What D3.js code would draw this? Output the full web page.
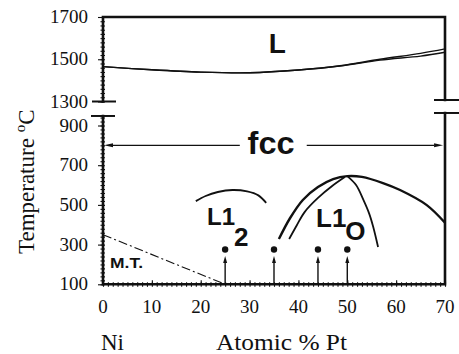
<!DOCTYPE html>
<html><head><meta charset="utf-8">
<script src="https://cdn.jsdelivr.net/npm/d3@7"></script>
<style>
html,body{margin:0;padding:0;background:#fff;}
svg{display:block;}
</style>
</head><body>
<svg id="c" width="459" height="354"></svg>
<script>
// ---- data ----
const xTicks = [0,10,20,30,40,50,60,70];
const yTicksUpper = [1300,1500,1700];
const yTicksLower = [100,300,500,700,900];
// liquidus / solidus (Atomic % Pt, °C)
const liquidus = [[0,1465],[10,1450],[20,1439],[30,1436],[40,1449],[48.5,1469],[56.7,1500],[65,1528],[70,1549]];
const solidus  = [[0,1465],[10,1450],[20,1439],[30,1436],[40,1449],[48.5,1468],[56.7,1496],[65,1515],[70,1533]];
// L1_2 ordering boundary
const l12Arc = [[19,519],[21,545],[23.5,565],[26.5,575],[29.5,568],[31.8,548],[33.4,510]];
// L1_0 dome
const l10Outer = [[36,328],[38.3,434],[40.9,525],[44,590],[47.1,630],[50,645],[53,641],[57.3,610],[60.8,575],[66.2,500],[70,410]];
const l10Inner = [[38.1,328],[39.7,399],[41.3,465],[44,535],[46.9,595],[49.5,640]];
const l10Right = [[50,645],[51.8,600],[53.3,525],[54.5,455],[55.3,390],[56.3,288]];
// martensitic transformation line
const mtLine = [[0,350],[25,100]];
// compositions with arrows and dots
const dotComp = [25,35,44,50];
const dotTemp = 275;
const arrowBase = 100, arrowTip = 243;
// fcc arrows
const fccTemp = 800;
const fccLeft = [28,0.2], fccRight = [41.7,69.6];

// ---- scales ----
const SERIF = "'Liberation Serif','Times New Roman',Times,serif";
const SANS = "'Liberation Sans',Arial,Helvetica,sans-serif";
const svg = d3.select("#c");
const x = d3.scaleLinear().domain([0,70]).range([103,445]);
const yU = d3.scaleLinear().domain([1300,1700]).range([101.5,17]);
const yL = d3.scaleLinear().domain([100,900]).range([284.3,125.5]);

const lineU = d3.line().x(d=>x(d[0])).y(d=>yU(d[1])).curve(d3.curveCatmullRom.alpha(0.5));
const lineL = d3.line().x(d=>x(d[0])).y(d=>yL(d[1])).curve(d3.curveCatmullRom.alpha(0.5));

const ink = "#111";
function serifText(sel,size){ return sel.attr("font-family",SERIF).attr("font-size",size).attr("fill",ink); }
function boldText(sel,size){ return sel.attr("font-family",SANS).attr("font-weight","bold").attr("font-size",size).attr("fill",ink); }

// ---- frame ----
const frame = svg.append("g").attr("stroke",ink).attr("fill","none").attr("stroke-linecap","square");
frame.append("path").attr("stroke-width",2.6)
  .attr("d",`M${x(0)},${yU(1300)}V${yU(1700)}H${x(70)}V${yU(1300)-1.5}`);
frame.append("line").attr("stroke-width",2).attr("x1",93).attr("x2",115).attr("y1",yU(1300)).attr("y2",yU(1300));
frame.append("line").attr("stroke-width",2).attr("x1",435).attr("x2",459).attr("y1",yU(1300)-1.5).attr("y2",yU(1300)-1.5);
const yLtop = yL(948);
frame.append("line").attr("stroke-width",2).attr("x1",92).attr("x2",114).attr("y1",yLtop).attr("y2",yLtop);
frame.append("line").attr("stroke-width",2).attr("x1",435).attr("x2",459).attr("y1",yLtop-3).attr("y2",yLtop-3);
frame.append("path").attr("stroke-width",2.6)
  .attr("d",`M${x(0)},${yLtop}V${yL(100)}H${x(70)}V${yLtop-3}`);

// ---- axes (ticks) ----
function styleAxis(g){ g.select(".domain").remove(); g.selectAll("line").attr("stroke",ink).attr("stroke-width",1.1); g.selectAll("text").remove(); }
svg.append("g").attr("transform",`translate(${x(0)},0)`).call(d3.axisLeft(yU).tickValues(d3.range(1300,1701,20)).tickSize(2.5)).call(styleAxis);
svg.append("g").attr("transform",`translate(${x(0)},0)`).call(d3.axisRight(yU).tickValues(d3.range(1300,1701,20)).tickSize(2)).call(styleAxis);
svg.append("g").attr("transform",`translate(${x(0)},0)`).call(d3.axisLeft(yL).tickValues(d3.range(100,941,20)).tickSize(2.5)).call(styleAxis);
svg.append("g").attr("transform",`translate(${x(0)},0)`).call(d3.axisRight(yL).tickValues(d3.range(100,941,20)).tickSize(2)).call(styleAxis);
svg.append("g").attr("transform",`translate(${x(0)},0)`).call(d3.axisLeft(yU).tickValues(yTicksUpper).tickSize(5)).call(styleAxis);
svg.append("g").attr("transform",`translate(${x(0)},0)`).call(d3.axisLeft(yL).tickValues(yTicksLower).tickSize(5)).call(styleAxis);
svg.append("g").attr("transform",`translate(0,${yL(100)})`).call(d3.axisBottom(x).tickValues(d3.range(0,71,1)).tickSize(2.5)).call(styleAxis);
svg.append("g").attr("transform",`translate(0,${yL(100)})`).call(d3.axisTop(x).tickValues(d3.range(0,71,1)).tickSize(2)).call(styleAxis);
svg.append("g").attr("transform",`translate(0,${yL(100)})`).call(d3.axisTop(x).tickValues(xTicks).tickSize(4)).call(styleAxis);

// tick labels
svg.append("g").selectAll("text").data(yTicksUpper).join("text").call(serifText,19)
  .attr("x",88).attr("y",d=>yU(d)+6).attr("text-anchor","end").text(d=>d);
svg.append("g").selectAll("text").data(yTicksLower).join("text").call(serifText,19)
  .attr("x",88).attr("y",d=>yL(d)+6).attr("text-anchor","end").text(d=>d);
svg.append("g").selectAll("text").data(xTicks).join("text").call(serifText,19)
  .attr("x",d=>x(d)).attr("y",313).attr("text-anchor","middle").text(d=>d);

// axis titles
svg.append("text").call(serifText,23).attr("x",101).attr("y",350).text("Ni");
svg.append("text").call(serifText,23).attr("x",216).attr("y",350)
  .attr("textLength",131).attr("lengthAdjust","spacingAndGlyphs").text("Atomic % Pt");
const yt = svg.append("text").call(serifText,23).attr("transform","translate(34,254) rotate(-90)");
yt.append("tspan").text("Temperature ");
yt.append("tspan").attr("font-size",15).attr("dy",-9).text("o");
yt.append("tspan").attr("dy",9).text("C");

// ---- curves ----
svg.append("path").attr("d",lineU(liquidus)).attr("fill","none").attr("stroke",ink).attr("stroke-width",1.4);
svg.append("path").attr("d",lineU(solidus)).attr("fill","none").attr("stroke",ink).attr("stroke-width",1.4);
svg.append("path").attr("d",lineL(l12Arc)).attr("fill","none").attr("stroke",ink).attr("stroke-width",1.8);
svg.append("path").attr("d",lineL(l10Outer)).attr("fill","none").attr("stroke",ink).attr("stroke-width",2.4);
svg.append("path").attr("d",lineL(l10Inner)).attr("fill","none").attr("stroke",ink).attr("stroke-width",1.8);
svg.append("path").attr("d",lineL(l10Right)).attr("fill","none").attr("stroke",ink).attr("stroke-width",1.8);
svg.append("path").attr("d",d3.line().x(d=>x(d[0])).y(d=>yL(d[1]))(mtLine)).attr("fill","none").attr("stroke",ink)
  .attr("stroke-width",1.1).attr("stroke-dasharray","9,3,2,3");

// ---- arrows ----
function arrow(x1,y1,x2,y2,w,len,sw){
  const g = svg.append("g");
  const a = Math.atan2(y2-y1,x2-x1);
  const bx = x2-len*Math.cos(a), by = y2-len*Math.sin(a);
  g.append("line").attr("x1",x1).attr("y1",y1).attr("x2",bx).attr("y2",by).attr("stroke",ink).attr("stroke-width",sw);
  const px = -Math.sin(a)*w/2, py = Math.cos(a)*w/2;
  g.append("path").attr("d",`M${x2},${y2}L${bx+px},${by+py}L${bx-px},${by-py}Z`).attr("fill",ink);
}
arrow(x(fccLeft[0]),yL(fccTemp),x(fccLeft[1]),yL(fccTemp),4,9,1.3);
arrow(x(fccRight[0]),yL(fccTemp),x(fccRight[1]),yL(fccTemp),4,9,1.3);
dotComp.forEach(c=>{ arrow(x(c),yL(arrowBase),x(c),yL(arrowTip),4,7,1.4); });
svg.append("g").selectAll("circle").data(dotComp).join("circle")
  .attr("cx",d=>x(d)).attr("cy",yL(dotTemp)).attr("r",3.2).attr("fill",ink);

// ---- region labels ----
svg.append("text").call(boldText,28).attr("x",x(35.7)).attr("y",yU(1530)).attr("text-anchor","middle").text("L");
svg.append("text").call(boldText,31).attr("x",x(34.4)).attr("y",154).attr("text-anchor","middle")
  .attr("textLength",47).attr("lengthAdjust","spacingAndGlyphs").text("fcc");
svg.append("text").call(boldText,15).attr("x",110).attr("y",268)
  .attr("textLength",33).attr("lengthAdjust","spacingAndGlyphs").text("M.T.");
const l12 = svg.append("text").call(boldText,24).attr("x",207).attr("y",225);
l12.append("tspan").text("L1");
l12.append("tspan").attr("font-size",26).attr("dy",21).attr("dx",-1).text("2");
const l10 = svg.append("text").call(boldText,26).attr("x",316).attr("y",227);
l10.append("tspan").text("L1");
l10.append("tspan").attr("font-size",26).attr("dy",13).attr("dx",-1).text("O");
</script>
</body></html>
